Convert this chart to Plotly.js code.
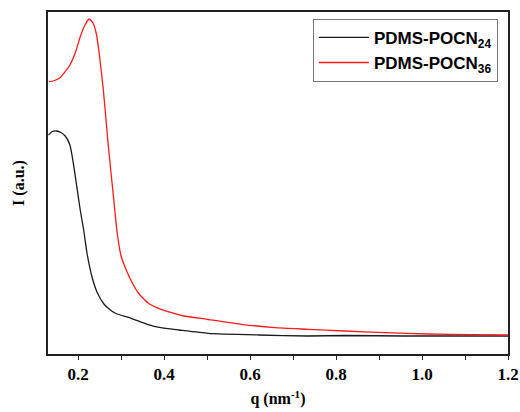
<!DOCTYPE html>
<html>
<head>
<meta charset="utf-8">
<script src="https://cdn.plot.ly/plotly-3.0.1.min.js"></script>
<style>html,body{margin:0;padding:0;background:#fff;}#chart{width:520px;height:412px;}</style>
</head>
<body>
<div id="chart"></div>
<script>
const qBlack = [0.131,0.140,0.150,0.160,0.170,0.181,0.189,0.197,0.205,0.213,0.221,0.233,0.245,0.260,0.275,0.288,0.323,0.361,0.392,0.435,0.503,0.620,0.735,0.820,0.960,1.200];
const iBlack = [219,222.5,223,221.5,218,209,190.7,167.3,144,124,100,76,61,50,44,40.5,35.7,29.7,26.3,24,20.7,19,18,18.5,18,18];
const qRed = [0.132,0.142,0.158,0.170,0.181,0.193,0.205,0.216,0.226,0.235,0.243,0.250,0.258,0.265,0.269,0.283,0.291,0.300,0.313,0.325,0.340,0.363,0.387,0.418,0.445,0.500,0.580,0.658,0.735,0.820,0.913,1.014,1.116,1.200];
const iRed = [272.3,273,276.3,282.3,289,300.7,317.3,329,335,330.7,319,297.3,267.3,234,214,154,121,98,83,72,61,51,45.7,41.3,38,34.7,29.7,26.3,24.7,23,21.3,20,19.3,19];
const names = ['PDMS-POCN<sub>24</sub>','PDMS-POCN<sub>36</sub>'];

const serif = 'Liberation Serif, Times New Roman, serif';
const traces = [
  {x:qBlack, y:iBlack, name:names[0], mode:'lines', line:{color:'#1a1a1a', width:1.3, shape:'spline', smoothing:0.5}},
  {x:qRed, y:iRed, name:names[1], mode:'lines', line:{color:'#ff1a1a', width:1.3, shape:'spline', smoothing:0.5}}
];
const layout = {
  width:520, height:412,
  margin:{l:48, r:12, t:12, b:58},
  paper_bgcolor:'#fff', plot_bgcolor:'#fff',
  showlegend:true,
  legend:{x:0.978, y:0.98, xanchor:'right', yanchor:'top', bordercolor:'#777', borderwidth:1, itemwidth:50,
    bgcolor:'#fff', font:{family:'Liberation Sans, Arial, sans-serif', size:17, color:'#000', weight:'bold'}, tracegroupgap:0},
  xaxis:{range:[0.13,1.2], tick0:0, dtick:0.2, tickformat:'.1f', ticks:'outside', ticklen:4, tickwidth:1.2, tickcolor:'#222',
    showline:true, linecolor:'#222', linewidth:1.5, mirror:true, showgrid:false, zeroline:false,
    minor:{dtick:0.1, tick0:0, ticks:'outside', ticklen:4, tickwidth:1.2, tickcolor:'#222', showgrid:false},
    tickfont:{family:serif, size:17, color:'#000', weight:'bold'},
    title:{text:'q (nm<sup>-1</sup>)', font:{family:serif, size:16, color:'#000', weight:'bold'}, standoff:10}},
  yaxis:{range:[0,342], showticklabels:false, ticks:'', showline:true, linecolor:'#222', linewidth:1.5, mirror:true,
    showgrid:false, zeroline:false,
    title:{text:'I (a.u.)', font:{family:serif, size:16, color:'#000', weight:'bold'}, standoff:18}}
};
Plotly.newPlot('chart', traces, layout, {displayModeBar:false});
</script>
</body>
</html>
